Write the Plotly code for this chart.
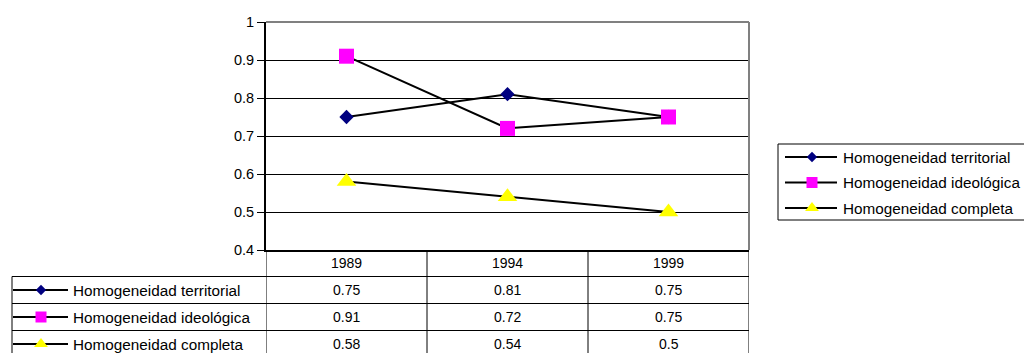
import plotly.graph_objects as go

# ---------------- data ----------------
years = ["1989", "1994", "1999"]
series_names = ["Homogeneidad territorial", "Homogeneidad ideológica", "Homogeneidad completa"]
territorial = [0.75, 0.81, 0.75]
ideologica = [0.91, 0.72, 0.75]
completa = [0.58, 0.54, 0.50]
y_ticks = [0.4, 0.5, 0.6, 0.7, 0.8, 0.9, 1.0]

series_values = [territorial, ideologica, completa]
colors = ["#000080", "#FF00FF", "#FFFF00"]
symbols = ["diamond", "square", "triangle-up"]
plot_sizes = [11, 15, 17]
key_sizes = [8, 11, 12]

# ---------------- layout constants (pixels) ----------------
W, H = 1024, 353
PL, PR, PT, PB = 266, 749, 22, 250          # plot area
FONT = "Liberation Sans, Arial, sans-serif"
row_lines = [276.5, 303.5, 330.5]
header_y = 263
row_centers = [290, 317, 344]
table_left = 12
legend_box = (778, 144, 1030, 220)
legend_rows = [157, 182.5, 208]

fig = go.Figure()

# data traces
for name, vals, col, sym, sz in zip(series_names, series_values, colors, symbols, plot_sizes):
    fig.add_trace(go.Scatter(
        x=years, y=vals, name=name, mode="lines+markers",
        line=dict(color="black", width=2),
        marker=dict(color=col, symbol=sym, size=sz, line=dict(width=0)),
        cliponaxis=False, xaxis="x", yaxis="y", showlegend=False, hoverinfo="skip"))

# legend keys (table rows and right legend) on pixel overlay axes
for i, (col, sym, sz) in enumerate(zip(colors, symbols, key_sizes)):
    for (x0, x1, xm, yc) in [(13, 68, 41, row_centers[i]), (785, 837, 812, legend_rows[i])]:
        fig.add_trace(go.Scatter(
            x=[x0, x1], y=[yc, yc], mode="lines", line=dict(color="black", width=2),
            xaxis="x2", yaxis="y2", showlegend=False, hoverinfo="skip", cliponaxis=False))
        fig.add_trace(go.Scatter(
            x=[xm], y=[yc], mode="markers",
            marker=dict(color=col, symbol=sym, size=sz, line=dict(width=0)),
            xaxis="x2", yaxis="y2", showlegend=False, hoverinfo="skip", cliponaxis=False))

shapes = []
# gray plot-area border top / right
shapes.append(dict(type="line", xref="x domain", yref="y domain", x0=0, x1=1, y0=1, y1=1,
                   line=dict(color="#808080", width=2), layer="above"))
shapes.append(dict(type="line", xref="x domain", yref="y domain", x0=1, x1=1, y0=0, y1=1,
                   line=dict(color="#808080", width=2), layer="above"))
# table vertical lines at category boundaries
for k in range(len(years) + 1):
    shapes.append(dict(type="line", xref="x", yref="y2", x0=k - 0.5, x1=k - 0.5, y0=PB, y1=H + 5,
                       line=dict(color="black", width=1)))
# table left border
shapes.append(dict(type="line", xref="x2", yref="y2", x0=table_left, x1=table_left,
                   y0=row_lines[0], y1=H + 5, line=dict(color="black", width=1)))
# table horizontal lines
for ry in row_lines:
    shapes.append(dict(type="line", xref="x2", yref="y2", x0=table_left, x1=PR, y0=ry, y1=ry,
                       line=dict(color="black", width=1)))
# legend box
shapes.append(dict(type="rect", xref="x2", yref="y2", x0=legend_box[0], y0=legend_box[1],
                   x1=legend_box[2], y1=legend_box[3], line=dict(color="black", width=1),
                   fillcolor="rgba(0,0,0,0)"))

annotations = []
for ci, yr in enumerate(years):
    annotations.append(dict(x=ci, xref="x", y=header_y, yref="y2", text=yr, showarrow=False,
                            font=dict(family=FONT, size=14, color="black"),
                            xanchor="center", yanchor="middle"))
for i, vals in enumerate(series_values):
    for ci, v in enumerate(vals):
        annotations.append(dict(x=ci, xref="x", y=row_centers[i], yref="y2", text=f"{v:g}",
                                showarrow=False, font=dict(family=FONT, size=14, color="black"),
                                xanchor="center", yanchor="middle"))
    annotations.append(dict(x=71, xref="x2", y=row_centers[i], yref="y2", text=series_names[i],
                            showarrow=False, font=dict(family=FONT, size=15.3, color="black"),
                            xanchor="left", yanchor="middle"))
    annotations.append(dict(x=841, xref="x2", y=legend_rows[i], yref="y2", text=series_names[i],
                            showarrow=False, font=dict(family=FONT, size=15.3, color="black"),
                            xanchor="left", yanchor="middle"))

fig.update_layout(
    width=W, height=H, autosize=False,
    margin=dict(l=0, r=0, t=0, b=0),
    paper_bgcolor="white", plot_bgcolor="rgba(0,0,0,0)",
    font=dict(family=FONT, color="black"),
    showlegend=False,
    xaxis=dict(domain=[PL / W, PR / W], type="category", range=[-0.5, len(years) - 0.5],
               showticklabels=False, showgrid=False, zeroline=False, ticks="",
               showline=True, linecolor="black", linewidth=2, fixedrange=True, automargin=False),
    yaxis=dict(domain=[(H - PB) / H, (H - PT) / H], range=[y_ticks[0], y_ticks[-1]],
               tickvals=y_ticks, ticktext=[f"{v:g}" for v in y_ticks],
               showgrid=True, gridcolor="black", gridwidth=1, zeroline=False,
               showline=True, linecolor="black", linewidth=2,
               ticks="outside", ticklen=7, tickcolor="black", tickwidth=1,
               tickfont=dict(family=FONT, size=14.5, color="black"),
               fixedrange=True, automargin=False),
    xaxis2=dict(domain=[0, 1], range=[0, W], visible=False, fixedrange=True, anchor="y2"),
    yaxis2=dict(domain=[0, 1], range=[H, 0], visible=False, fixedrange=True, anchor="x2"),
    shapes=shapes, annotations=annotations,
)

fig.write_html("out.html", config={"displayModeBar": False},
               post_script="document.body.style.margin='0';document.body.style.overflow='hidden';")
